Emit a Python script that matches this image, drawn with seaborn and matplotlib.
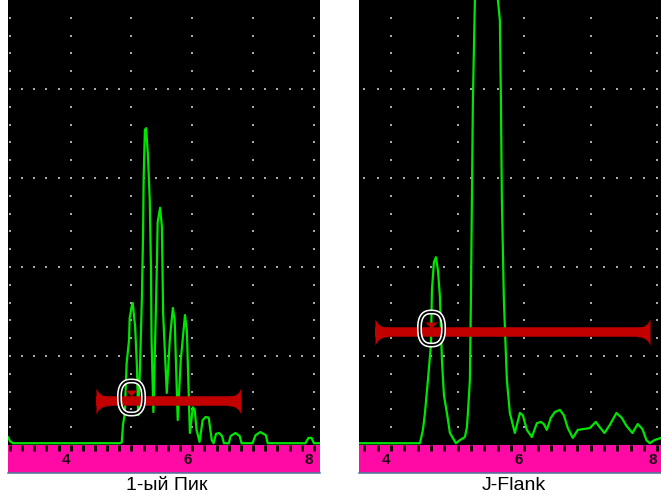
import numpy as np
import matplotlib
matplotlib.use("Agg")
import matplotlib.pyplot as plt
import seaborn as sns
from matplotlib.path import Path
from matplotlib.transforms import offset_copy, blended_transform_factory

# ---------------- data ----------------
left_pos = [2.97, 3.00, 3.05, 4.81, 4.84, 4.86, 4.89, 4.92, 4.96, 4.97, 5.01, 5.02, 5.06, 5.09, 5.11,
            5.14, 5.17, 5.19, 5.20, 5.22, 5.24, 5.27, 5.30, 5.32, 5.33, 5.36, 5.40, 5.42, 5.43, 5.47,
            5.50, 5.52, 5.55, 5.58, 5.63, 5.68, 5.71, 5.76, 5.81, 5.88, 5.91, 5.96, 6.01, 6.04, 6.07,
            6.12, 6.17, 6.22, 6.27, 6.32, 6.35, 6.39, 6.44, 6.49, 6.52, 6.60, 6.63, 6.71, 6.78, 6.81,
            6.99, 7.04, 7.12, 7.21, 7.24, 7.86, 7.91, 7.96, 8.00, 8.10]
left_amp = [1.8, 0.9, 0.4, 0.4, 0.6, 4.5, 7.2, 18.4, 23.6, 28.5, 31.7, 31.9, 26.5, 17.5, 6.7,
            17.5, 32.6, 47.2, 60.0, 70.8, 71.2, 65.2, 55.1, 40.0, 23.6, 7.4, 29.7, 42.2, 50.1, 53.3,
            49.0, 29.7, 20.7, 11.7, 23.6, 30.8, 28.1, 5.6, 19.1, 29.2, 25.8, 2.7, 8.5, 7.9, 3.4,
            0.7, 5.6, 6.3, 6.1, 1.1, 0.4, 2.5, 2.7, 2.0, 0.4, 0.4, 2.0, 2.7, 2.0, 0.4,
            0.4, 2.2, 2.9, 2.2, 0.4, 0.4, 1.6, 1.6, 0.4, 0.4]

right_pos = [3.52, 4.435, 4.48, 4.51, 4.555, 4.60, 4.615, 4.645, 4.675, 4.705, 4.735, 4.765, 4.795, 4.84, 4.885,
             4.975, 5.035, 5.11, 5.14, 5.155, 5.185, 5.20, 5.215, 5.23, 5.26, 5.325, 5.425, 5.525, 5.605, 5.635,
             5.65, 5.665, 5.695, 5.74, 5.785, 5.86, 5.935, 5.98, 6.04, 6.115, 6.19, 6.25, 6.295, 6.34, 6.40,
             6.46, 6.535, 6.595, 6.655, 6.73, 6.805, 6.895, 6.985, 7.075, 7.135, 7.205, 7.285, 7.385, 7.465, 7.535,
             7.625, 7.705, 7.775, 7.835, 7.885, 7.955, 8.054]
right_amp = [0.4, 0.4, 3.4, 7.2, 14.6, 22.5, 34.8, 41.1, 42.2, 39.3, 33.3, 19.1, 11.2, 7.2, 2.7,
             0.4, 1.1, 1.8, 4.0, 7.2, 14.6, 32.6, 55.1, 77.5, 100, 130, 150, 130, 100, 95.5,
             78.2, 55.1, 32.6, 14.6, 7.2, 2.7, 7.2, 6.7, 3.4, 1.8, 4.9, 5.2, 4.7, 3.4, 6.1,
             7.4, 7.9, 6.7, 3.8, 1.6, 3.4, 3.6, 3.8, 5.2, 4.0, 2.7, 4.5, 7.2, 6.1, 4.3,
             2.7, 4.7, 3.6, 1.1, 0.4, 1.1, 1.6]

captions = ["1-ый Пик", "J-Flank"]
ruler_labels = [4, 6, 8]
gate_start = [4.42, 3.76]
gate_end = [6.80, 7.89]
gate_level = [9.9, 25.3]
marker_pos = [4.99, 4.60]

# ---------------- layout / style ----------------
W, H = 661, 498
panel_px = [(8, 320), (359, 661)]
x_limits = [(2.969, 8.100), (3.520, 8.054)]
screen_top, screen_bot, ruler_bot = 0, 445, 473

GREEN = "#00e600"
RED = "#c20000"
PINK = "#ff0aa5"
DOT = "#a8a8a8"

sns.set_theme(style="white")
plt.rcParams["font.family"] = ["Liberation Sans", "DejaVu Sans"]

fig = plt.figure(figsize=(W / 100, H / 100), dpi=100)
fig.patch.set_facecolor("white")

px2pt = 72 / 100.0

# custom marker paths
t = np.linspace(0, 2 * np.pi, 120)
nexp = 2.6
ox = 0.727 * np.sign(np.cos(t)) * np.abs(np.cos(t)) ** (2 / nexp)
oy = np.sign(np.sin(t)) * np.abs(np.sin(t)) ** (2 / nexp)
oval_path = Path(np.column_stack([ox, oy]))

flare_l = [(0, -1), (0, 1), (0.2, 0.66), (0.45, 0.47), (0.75, 0.375), (1.0, 0.375),
           (1.0, -0.375), (0.75, -0.375), (0.45, -0.47), (0.2, -0.66), (0, -1)]
flare_l_path = Path(flare_l, closed=True)
flare_r_path = Path([(-a, b) for a, b in flare_l], closed=True)
tri_path = Path([(-1, 0.5), (1, 0.5), (0, -0.5), (-1, 0.5)], closed=True)

series = [(left_pos, left_amp), (right_pos, right_amp)]

for i in range(2):
    x0, x1 = panel_px[i]
    ax = fig.add_axes([x0 / W, (H - screen_bot) / H, (x1 - x0) / W, (screen_bot - screen_top) / H])
    ax.set_facecolor("black")
    for s in ax.spines.values():
        s.set_visible(False)
    ax.set_xlim(*x_limits[i])
    ax.set_ylim(0, 100)
    ax.set_xticks([])
    ax.set_yticks([])

    # dotted graticule
    lo, hi = x_limits[i]
    cols = np.arange(np.ceil(lo), np.floor(hi) + 0.001, 1.0)
    vy = np.arange(4, 100, 4)
    for c in cols:
        ax.plot(np.full_like(vy, c, dtype=float), vy, ls="none", marker="s", ms=1.5,
                mew=0, color=DOT, zorder=1)
    hx = np.arange(np.ceil(lo * 5) / 5, hi, 0.2)
    for r in [20, 40, 60, 80]:
        ax.plot(hx, np.full_like(hx, r), ls="none", marker="s", ms=1.5, mew=0,
                color=DOT, zorder=1)

    # A-scan trace
    xs, ys = series[i]
    sns.lineplot(x=xs, y=ys, ax=ax, sort=False, estimator=None, color=GREEN,
                 lw=1.6, zorder=2)

    # gate
    lvl = gate_level[i]
    ax.plot([gate_start[i], gate_end[i]], [lvl, lvl], color=RED, lw=9.5 * px2pt,
            solid_capstyle="butt", zorder=3)
    ax.plot([gate_start[i]], [lvl], ls="none", marker=flare_l_path, ms=26 * px2pt,
            mew=0, color=RED, zorder=3)
    ax.plot([gate_end[i]], [lvl], ls="none", marker=flare_r_path, ms=26 * px2pt,
            mew=0, color=RED, zorder=3)
    tr_tri = offset_copy(ax.transData, fig=fig, x=0, y=7.5, units="dots")
    ax.plot([marker_pos[i]], [lvl], ls="none", marker=tri_path, ms=12 * px2pt,
            mew=0, color=RED, transform=tr_tri, zorder=4)
    tr_oval = offset_copy(ax.transData, fig=fig, x=0, y=4, units="dots")
    ax.plot([marker_pos[i]], [lvl], ls="none", marker=oval_path, ms=33 * px2pt,
            mfc="none", mec="white", mew=5 * px2pt, transform=tr_oval, zorder=5)
    ax.plot([marker_pos[i]], [lvl], ls="none", marker=oval_path, ms=33 * px2pt,
            mfc="none", mec="black", mew=1.8 * px2pt, transform=tr_oval, zorder=6)

    # ruler
    rax = fig.add_axes([x0 / W, (H - ruler_bot) / H, (x1 - x0) / W, (ruler_bot - screen_bot) / H])
    rax.set_facecolor(PINK)
    rax.set_xlim(*x_limits[i])
    rax.set_ylim(0, 1)
    rax.set_yticks([])
    for k, s in rax.spines.items():
        s.set_visible(k == "bottom")
    rax.spines["bottom"].set_color("#4d7a9c")
    rax.spines["bottom"].set_linewidth(1.6 * px2pt)
    rax.set_xticks(hx)
    rax.xaxis.set_ticks_position("top")
    rax.tick_params(axis="x", which="both", direction="in", length=6 * px2pt,
                    width=3 * px2pt, color="#1a0008", labeltop=False, labelbottom=False)
    tr_lab = offset_copy(blended_transform_factory(rax.transData, rax.transAxes),
                         fig=fig, x=-5, y=0, units="dots")
    for v in ruler_labels:
        rax.text(v, 0.45, str(v), transform=tr_lab, ha="center", va="center",
                 fontsize=11, fontweight="bold", color="#1a0010",
                 family=["Liberation Sans Narrow", "Liberation Sans", "DejaVu Sans"])

    # caption
    cx = [167, 514][i]
    fig.text(cx / W, (H - 485) / H, captions[i], ha="center", va="center",
             fontsize=14, color="black", family=["Liberation Sans", "DejaVu Sans"])

fig.savefig("out.png", dpi=100, facecolor="white")
